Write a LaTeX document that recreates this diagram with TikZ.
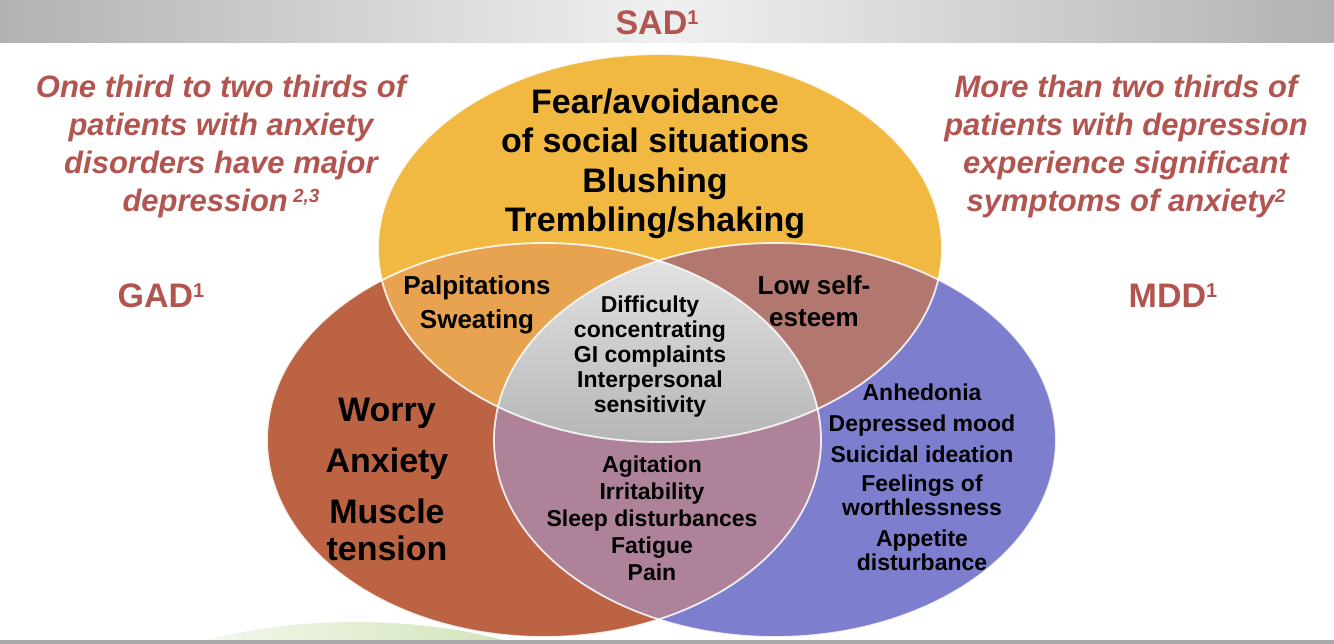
\documentclass[tikz,border=0pt]{standalone}
\usepackage{fontspec}
\setmainfont{Liberation Sans}
\definecolor{sady}{RGB}{242,185,66}
\definecolor{gadc}{RGB}{187,99,66}
\definecolor{mddc}{RGB}{125,127,206}
\definecolor{sadgad}{RGB}{232,163,80}
\definecolor{sadmdd}{RGB}{178,120,112}
\definecolor{gadmdd}{RGB}{174,130,153}
\definecolor{txtred}{RGB}{178,84,80}
\definecolor{banddark}{RGB}{178,178,178}
\definecolor{bandlight}{RGB}{240,240,240}
\definecolor{greenish}{RGB}{200,221,168}
\definecolor{linegray}{RGB}{168,168,168}
\definecolor{grtop}{RGB}{228,228,228}
\definecolor{grbot}{RGB}{180,180,180}
\begin{document}
\begin{tikzpicture}[x=1pt,y=-1pt,
  every node/.style={inner sep=0pt, align=center},
  redtxt/.style={text=txtred, font=\fontsize{31}{38}\selectfont\bfseries\itshape},
  biglabel/.style={text=txtred, font=\fontsize{34}{34}\selectfont\bfseries},
  bigtxt/.style={font=\fontsize{34}{39.5}\selectfont\bfseries},
  midtxt/.style={font=\fontsize{26}{34}\selectfont\bfseries},
  smalltxt/.style={font=\fontsize{23}{25}\selectfont\bfseries},
  edgeline/.style={draw=white, line width=1.8pt, draw opacity=0.85}]
\useasboundingbox (0,0) rectangle (1334,644);
% top band
\shade[left color=banddark, right color=banddark, middle color=bandlight] (0,0) rectangle (1334,43);
% bottom green arc
\begin{scope}
  \clip (0,0) rectangle (1334,640);
  \shade[left color=white, right color=greenish, shading angle=90] (355,724) ellipse [x radius=260, y radius=102];
\end{scope}
\fill[linegray] (0,640) rectangle (1334,644);
% ellipses
\coordinate (csad) at (660,248);
\coordinate (cgad) at (544,440);
\coordinate (cmdd) at (775,440);
\fill[sady] (csad) ellipse [x radius=282, y radius=194];
\fill[gadc] (cgad) ellipse [x radius=277, y radius=197];
\fill[mddc] (cmdd) ellipse [x radius=281, y radius=197];
\begin{scope}
  \clip (csad) ellipse [x radius=282, y radius=194];
  \fill[sadgad] (cgad) ellipse [x radius=277, y radius=197];
  \fill[sadmdd] (cmdd) ellipse [x radius=281, y radius=197];
\end{scope}
\begin{scope}
  \clip (cgad) ellipse [x radius=277, y radius=197];
  \fill[gadmdd] (cmdd) ellipse [x radius=281, y radius=197];
\end{scope}
\begin{scope}
  \clip (csad) ellipse [x radius=282, y radius=194];
  \clip (cgad) ellipse [x radius=277, y radius=197];
  \clip (cmdd) ellipse [x radius=281, y radius=197];
  \shade[top color=grtop, bottom color=grbot] (480,250) rectangle (840,450);
\end{scope}
\draw[edgeline] (csad) ellipse [x radius=282, y radius=194];
\draw[edgeline] (cgad) ellipse [x radius=277, y radius=197];
\draw[edgeline] (cmdd) ellipse [x radius=281, y radius=197];
% labels
\node[biglabel] (sadl) at (657,23) {SAD\raisebox{10pt}{\fontsize{20}{20}\selectfont 1}};
\node[biglabel] (gadl) at (161,296) {GAD\raisebox{10pt}{\fontsize{20}{20}\selectfont 1}};
\node[biglabel] (mddl) at (1173,296) {MDD\raisebox{10pt}{\fontsize{20}{20}\selectfont 1}};
\node[redtxt] (leftnote) at (221,146) {One third to two thirds of\\patients with anxiety\\disorders have major\\depression\,\raisebox{9pt}{\fontsize{19}{19}\selectfont 2,3}};
\node[redtxt] (rightnote) at (1126,146) {More than two thirds of\\patients with depression\\experience significant\\symptoms of anxiety\raisebox{9pt}{\fontsize{19}{19}\selectfont 2}};
% region texts
\node[bigtxt] (sadtxt) at (655,164) {Fear/avoidance\\of social situations\\Blushing\\Trembling/shaking};
\node[midtxt] (sgtxt) at (477,305) {Palpitations\\Sweating};
\node[midtxt, font=\fontsize{26}{32}\selectfont\bfseries] (smtxt) at (814,301) {Low self-\\esteem};
\node[smalltxt] (alltxt) at (650,357) {Difficulty\\concentrating\\GI complaints\\Interpersonal\\sensitivity};
\node[bigtxt, font=\fontsize{34}{37}\selectfont\bfseries] (gadtxt) at (387,479) {Worry\\[14pt]Anxiety\\[14pt]Muscle\\tension};
\node[smalltxt, font=\fontsize{23}{27}\selectfont\bfseries] (gmtxt) at (652,518) {Agitation\\Irritability\\Sleep disturbances\\Fatigue\\Pain};
\node[smalltxt, font=\fontsize{23}{24}\selectfont\bfseries] (mddtxt) at (922,477) {Anhedonia\\[7pt]Depressed mood\\[7pt]Suicidal ideation\\[5pt]Feelings of\\worthlessness\\[7pt]Appetite\\disturbance};
\end{tikzpicture}
\end{document}
